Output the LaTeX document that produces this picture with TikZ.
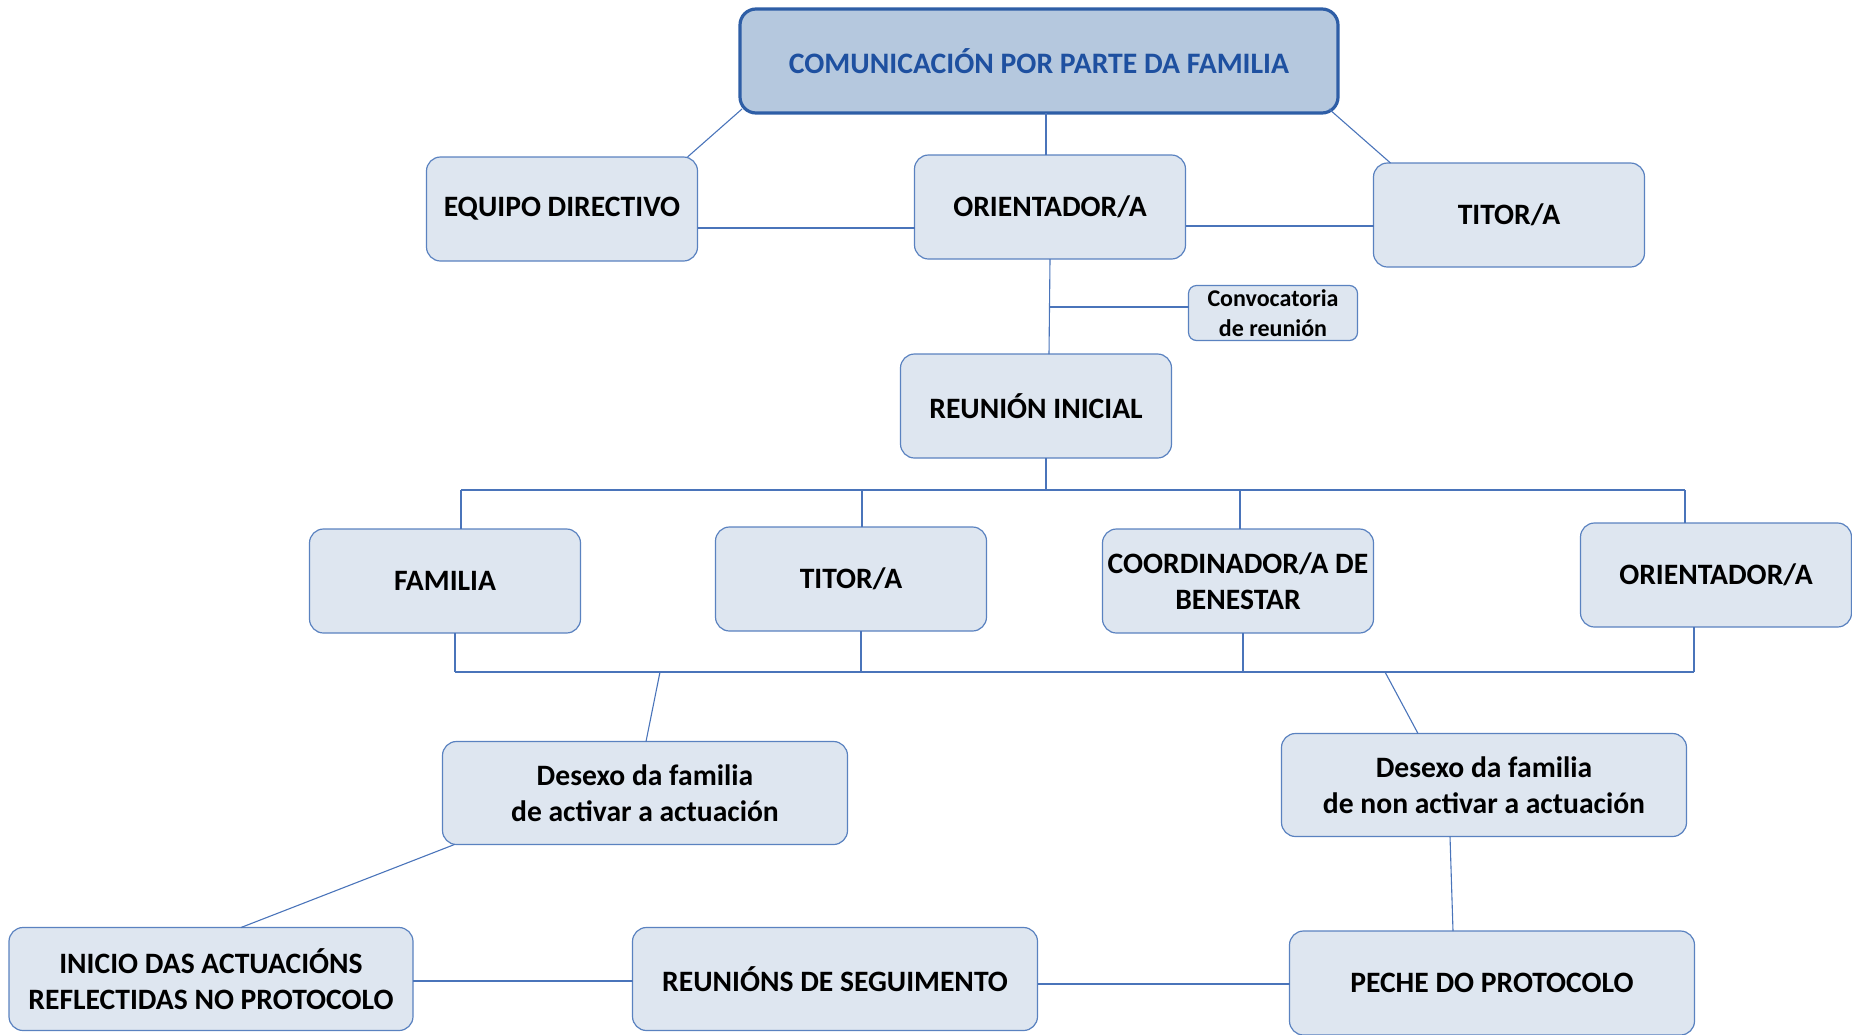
\documentclass[tikz,border=0pt]{standalone}
\usepackage{fontspec}
\setmainfont{Carlito}
\usetikzlibrary{calc}
\definecolor{boxfill}{HTML}{DEE6F0}
\definecolor{boxline}{HTML}{5A82C0}
\definecolor{conn}{HTML}{4A74BA}
\definecolor{topfill}{HTML}{B5C8DE}
\definecolor{topline}{HTML}{2E5EA6}
\definecolor{toptext}{HTML}{1E50A0}
\tikzset{
  boxbase/.style={draw=boxline, fill=boxfill, line width=1.2pt, rounded corners=14pt,
    align=center, inner sep=0pt, outer sep=0pt, font=\fontsize{29.6}{36}\selectfont\bfseries},
  stdbox/.style={boxbase, minimum width=271pt, minimum height=104pt},
  widebox/.style={boxbase, minimum width=405pt, minimum height=103pt},
  smallbox/.style={boxbase, minimum width=169pt, minimum height=55pt, rounded corners=8pt,
    font=\fontsize{24}{29.5}\selectfont\bfseries},
  titlebox/.style={draw=topline, fill=topfill, line width=3.2pt, rounded corners=16pt,
    text=toptext, minimum width=598pt, minimum height=104pt, inner sep=0pt, outer sep=0pt,
    font=\fontsize{29.7}{36}\selectfont\bfseries},
  link/.style={draw=conn, line width=1.1pt}
}
\begin{document}
\begin{tikzpicture}[x=1pt,y=-1pt]
\useasboundingbox (0,0) rectangle (1852,1034);
% nodes
\node[titlebox] (top) at (1039,61) {COMUNICACIÓN POR PARTE DA FAMILIA};
\node[stdbox] (equipo) at (562,209) {EQUIPO DIRECTIVO};
\node[stdbox] (orient1) at (1050,207) {ORIENTADOR/A};
\node[stdbox] (titor1) at (1509,215) {TITOR/A};
\node[smallbox] (conv) at (1273,313) {Convocatoria\\de reunión};
\node[stdbox] (reunion) at (1036,406) {REUNIÓN INICIAL};
\node[stdbox] (familia) at (445,581) {FAMILIA};
\node[stdbox] (titor2) at (851,579) {TITOR/A};
\node[stdbox] (coord) at (1238,581) {COORDINADOR/A DE\\BENESTAR};
\node[stdbox] (orient2) at (1716,575) {ORIENTADOR/A};
\node[widebox] (desexo1) at (645,793) {Desexo da familia\\de activar a actuación};
\node[widebox] (desexo2) at (1484,785) {Desexo da familia\\de non activar a actuación};
\node[widebox, minimum width=404pt] (inicio) at (211,979) {INICIO DAS ACTUACIÓNS\\REFLECTIDAS NO PROTOCOLO};
\node[widebox] (seg) at (835,979) {REUNIÓNS DE SEGUIMENTO};
\node[widebox, minimum height=104pt] (peche) at (1492,983) {PECHE DO PROTOCOLO};
% bus coordinates
\coordinate (busA) at (1046,490);
\coordinate (busL) at (461,490);
\coordinate (busR) at (1685,490);
\coordinate (busBL) at (455,672);
\coordinate (busBR) at (1694,672);
\coordinate (splitL) at (660,672);
\coordinate (splitR) at (1385,672);
% connectors
\draw[link] ([xshift=2pt,yshift=4pt]top.south west) -- ([xshift=-10pt]equipo.north east);
\draw[link] ([xshift=7pt]top.south) -- ([xshift=-4pt]orient1.north);
\draw[link] ([xshift=-9pt,yshift=4pt]top.south east) -- ([xshift=17pt]titor1.north west);
\draw[link] ([yshift=-19pt]equipo.east) -- ([yshift=-21pt]orient1.west);
\draw[link] ([yshift=-19pt]orient1.east) -- ([yshift=-11pt]titor1.west);
\draw[link] (orient1.south) -- ([xshift=13pt]reunion.north);
\draw[link] ([yshift=6pt]conv.west) -- ([yshift=6pt]conv.west -| orient1.south);
\draw[link] ([xshift=10pt]reunion.south) -- (busA);
\draw[link] (busL) -- (busR);
\draw[link] ([xshift=16pt]familia.north) -- ([xshift=16pt]familia.north |- busL);
\draw[link] ([xshift=11pt]titor2.north) -- ([xshift=11pt]titor2.north |- busL);
\draw[link] ([xshift=2pt]coord.north) -- ([xshift=2pt]coord.north |- busL);
\draw[link] ([xshift=-31pt]orient2.north) -- ([xshift=-31pt]orient2.north |- busR);
\draw[link] (busBL) -- (busBR);
\draw[link] ([xshift=10pt]familia.south) -- ([xshift=10pt]familia.south |- busBL);
\draw[link] ([xshift=10pt]titor2.south) -- ([xshift=10pt]titor2.south |- busBL);
\draw[link] ([xshift=5pt]coord.south) -- ([xshift=5pt]coord.south |- busBL);
\draw[link] ([xshift=-22pt]orient2.south) -- ([xshift=-22pt]orient2.south |- busBR);
\draw[link] (splitL) -- ([xshift=1pt]desexo1.north);
\draw[link] (splitR) -- ([xshift=-66pt]desexo2.north);
\draw[link] ([xshift=12pt]desexo1.south west) -- ([xshift=30pt]inicio.north);
\draw[link] ([xshift=-34pt]desexo2.south) -- ([xshift=-39pt]peche.north);
\draw[link] ([yshift=-2pt]inicio.east) -- ([yshift=-2pt]seg.west);
\draw[link] ([yshift=-5pt]seg.east) -- ([yshift=-1pt]peche.west);
\end{tikzpicture}
\end{document}
